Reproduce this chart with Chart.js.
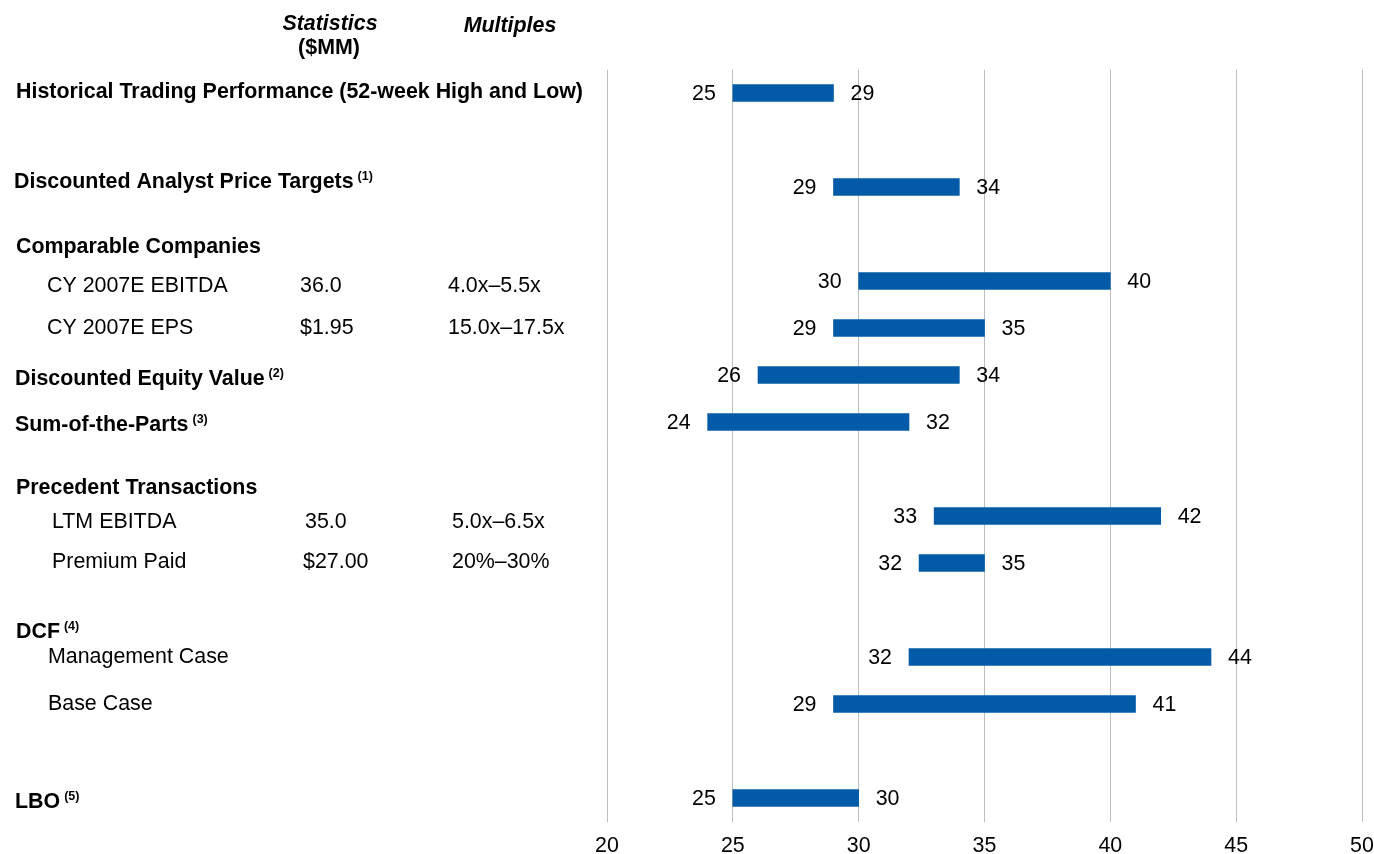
<!DOCTYPE html>
<html><head><meta charset="utf-8">
<script src="https://cdn.jsdelivr.net/npm/chart.js@4.4.1/dist/chart.umd.min.js"></script>
<style>html,body{margin:0;padding:0;background:#fff;} #wrap{position:relative;width:1374px;height:854px;}</style>
</head><body><div id="wrap"><canvas id="c" width="1374" height="854"></canvas></div>
<script>
// ---- data ----
const categories = [
  "Historical Trading Performance (52-week High and Low)", "",
  "Discounted Analyst Price Targets", "Comparable Companies",
  "CY 2007E EBITDA", "CY 2007E EPS",
  "Discounted Equity Value", "Sum-of-the-Parts",
  "Precedent Transactions", "LTM EBITDA", "Premium Paid",
  "DCF", "Management Case", "Base Case", "", "LBO"
];
const rowNotes = ["", "", "(1)", "", "", "", "(2)", "(3)", "", "", "", "(4)", "", "", "", "(5)"];
const rowBold = [true, false, true, true, false, false, true, true, true, false, false, true, false, false, false, true];
const statistics = ["", "", "", "", "36.0", "$1.95", "", "", "", "35.0", "$27.00", "", "", "", "", ""];
const multiples = ["", "", "", "", "4.0x\u20135.5x", "15.0x\u201317.5x", "", "", "", "5.0x\u20136.5x", "20%\u201330%", "", "", "", "", ""];
const lowValues = [25, null, 29, null, 30, 29, 26, 24, null, 33, 32.4, null, 32, 29, null, 25];
const highValues = [29, null, 34, null, 40, 35, 34, 32, null, 42, 35, null, 44, 41, null, 30];
const lowLabels = ["25", "", "29", "", "30", "29", "26", "24", "", "33", "32", "", "32", "29", "", "25"];
const highLabels = ["29", "", "34", "", "40", "35", "34", "32", "", "42", "35", "", "44", "41", "", "30"];
const xTicks = [20, 25, 30, 35, 40, 45, 50];
const headerStats = ["Statistics", "($MM)"];
const headerMultiples = "Multiples";

// ---- layout (positions only) ----
const FONT = "'Liberation Sans', Arial, sans-serif";
const FS = 21.4;
const rowX = [16, 0, 14, 16, 47, 47, 15, 15, 16, 52, 52, 16, 48, 48, 0, 15];
const rowDy = [-3, 0, -7, 11, 3, -2, 2, 1, 17, 4, -3, 20, -2, -2, 0, 2];
const statX = [0, 0, 0, 0, 300, 300, 0, 0, 0, 305, 303, 0, 0, 0, 0, 0];
const multX = [0, 0, 0, 0, 448, 448, 0, 0, 0, 452, 452, 0, 0, 0, 0, 0];

const textPlugin = {
  id: 'texts',
  afterDraw(chart) {
    const ctx = chart.ctx;
    const ys = chart.scales.y;
    ctx.save();
    ctx.fillStyle = '#000';
    ctx.textBaseline = 'alphabetic';
    // headers
    ctx.textAlign = 'center';
    ctx.font = 'italic bold ' + FS + 'px ' + FONT;
    ctx.fillText(headerStats[0], 330, 30);
    ctx.font = 'bold ' + FS + 'px ' + FONT;
    ctx.fillText(headerStats[1], 329, 54);
    ctx.font = 'italic bold ' + FS + 'px ' + FONT;
    ctx.fillText(headerMultiples, 510, 32);
    ctx.textAlign = 'left';
    categories.forEach((t, i) => {
      if (!t) return;
      const yc = ys.getPixelForValue(i) + rowDy[i];
      const base = yc + 7.6;
      ctx.font = (rowBold[i] ? 'bold ' : '') + FS + 'px ' + FONT;
      ctx.fillText(t, rowX[i], base);
      const w = ctx.measureText(t).width;
      if (rowNotes[i]) {
        ctx.font = 'bold 12.5px ' + FONT;
        ctx.fillText(rowNotes[i], rowX[i] + w + 4, base - 7.5);
      }
      ctx.font = FS + 'px ' + FONT;
      if (statistics[i]) ctx.fillText(statistics[i], statX[i], base);
      if (multiples[i]) ctx.fillText(multiples[i], multX[i], base);
    });
    // bar value labels
    const meta = chart.getDatasetMeta(0);
    ctx.font = FS + 'px ' + FONT;
    ctx.textBaseline = 'middle';
    meta.data.forEach((el, i) => {
      if (lowValues[i] == null) return;
      const p = el.getProps(['x', 'y', 'base'], true);
      const left = Math.min(p.x, p.base), right = Math.max(p.x, p.base);
      ctx.textAlign = 'right';
      ctx.fillText(lowLabels[i], left - 17, p.y + 1);
      ctx.textAlign = 'left';
      ctx.fillText(highLabels[i], right + 17, p.y + 1);
    });
    ctx.restore();
  }
};

new Chart(document.getElementById('c').getContext('2d'), {
  type: 'bar',
  data: {
    labels: categories,
    datasets: [{
      data: lowValues.map((l, i) => l == null ? null : [l, highValues[i]]),
      backgroundColor: '#035BA7',
      borderWidth: 0,
      barThickness: 17
    }]
  },
  options: {
    indexAxis: 'y',
    responsive: false,
    animation: false,
    layout: { padding: { left: 607, right: 12, top: 69.5, bottom: 0 } },
    plugins: { legend: { display: false }, tooltip: { enabled: false } },
    scales: {
      x: {
        min: xTicks[0], max: xTicks[xTicks.length - 1],
        afterBuildTicks: (s) => { s.ticks = xTicks.map(v => ({ value: v })); },
        afterFit: (s) => { s.height = 32.5; s.paddingLeft = 0; s.paddingRight = 0; },
        ticks: { color: '#000', font: { family: FONT, size: FS }, padding: 12 },
        grid: { color: '#BCBFC2', drawTicks: false, lineWidth: 1 },
        border: { display: false }
      },
      y: { display: false }
    }
  },
  plugins: [textPlugin]
});
</script></body></html>
